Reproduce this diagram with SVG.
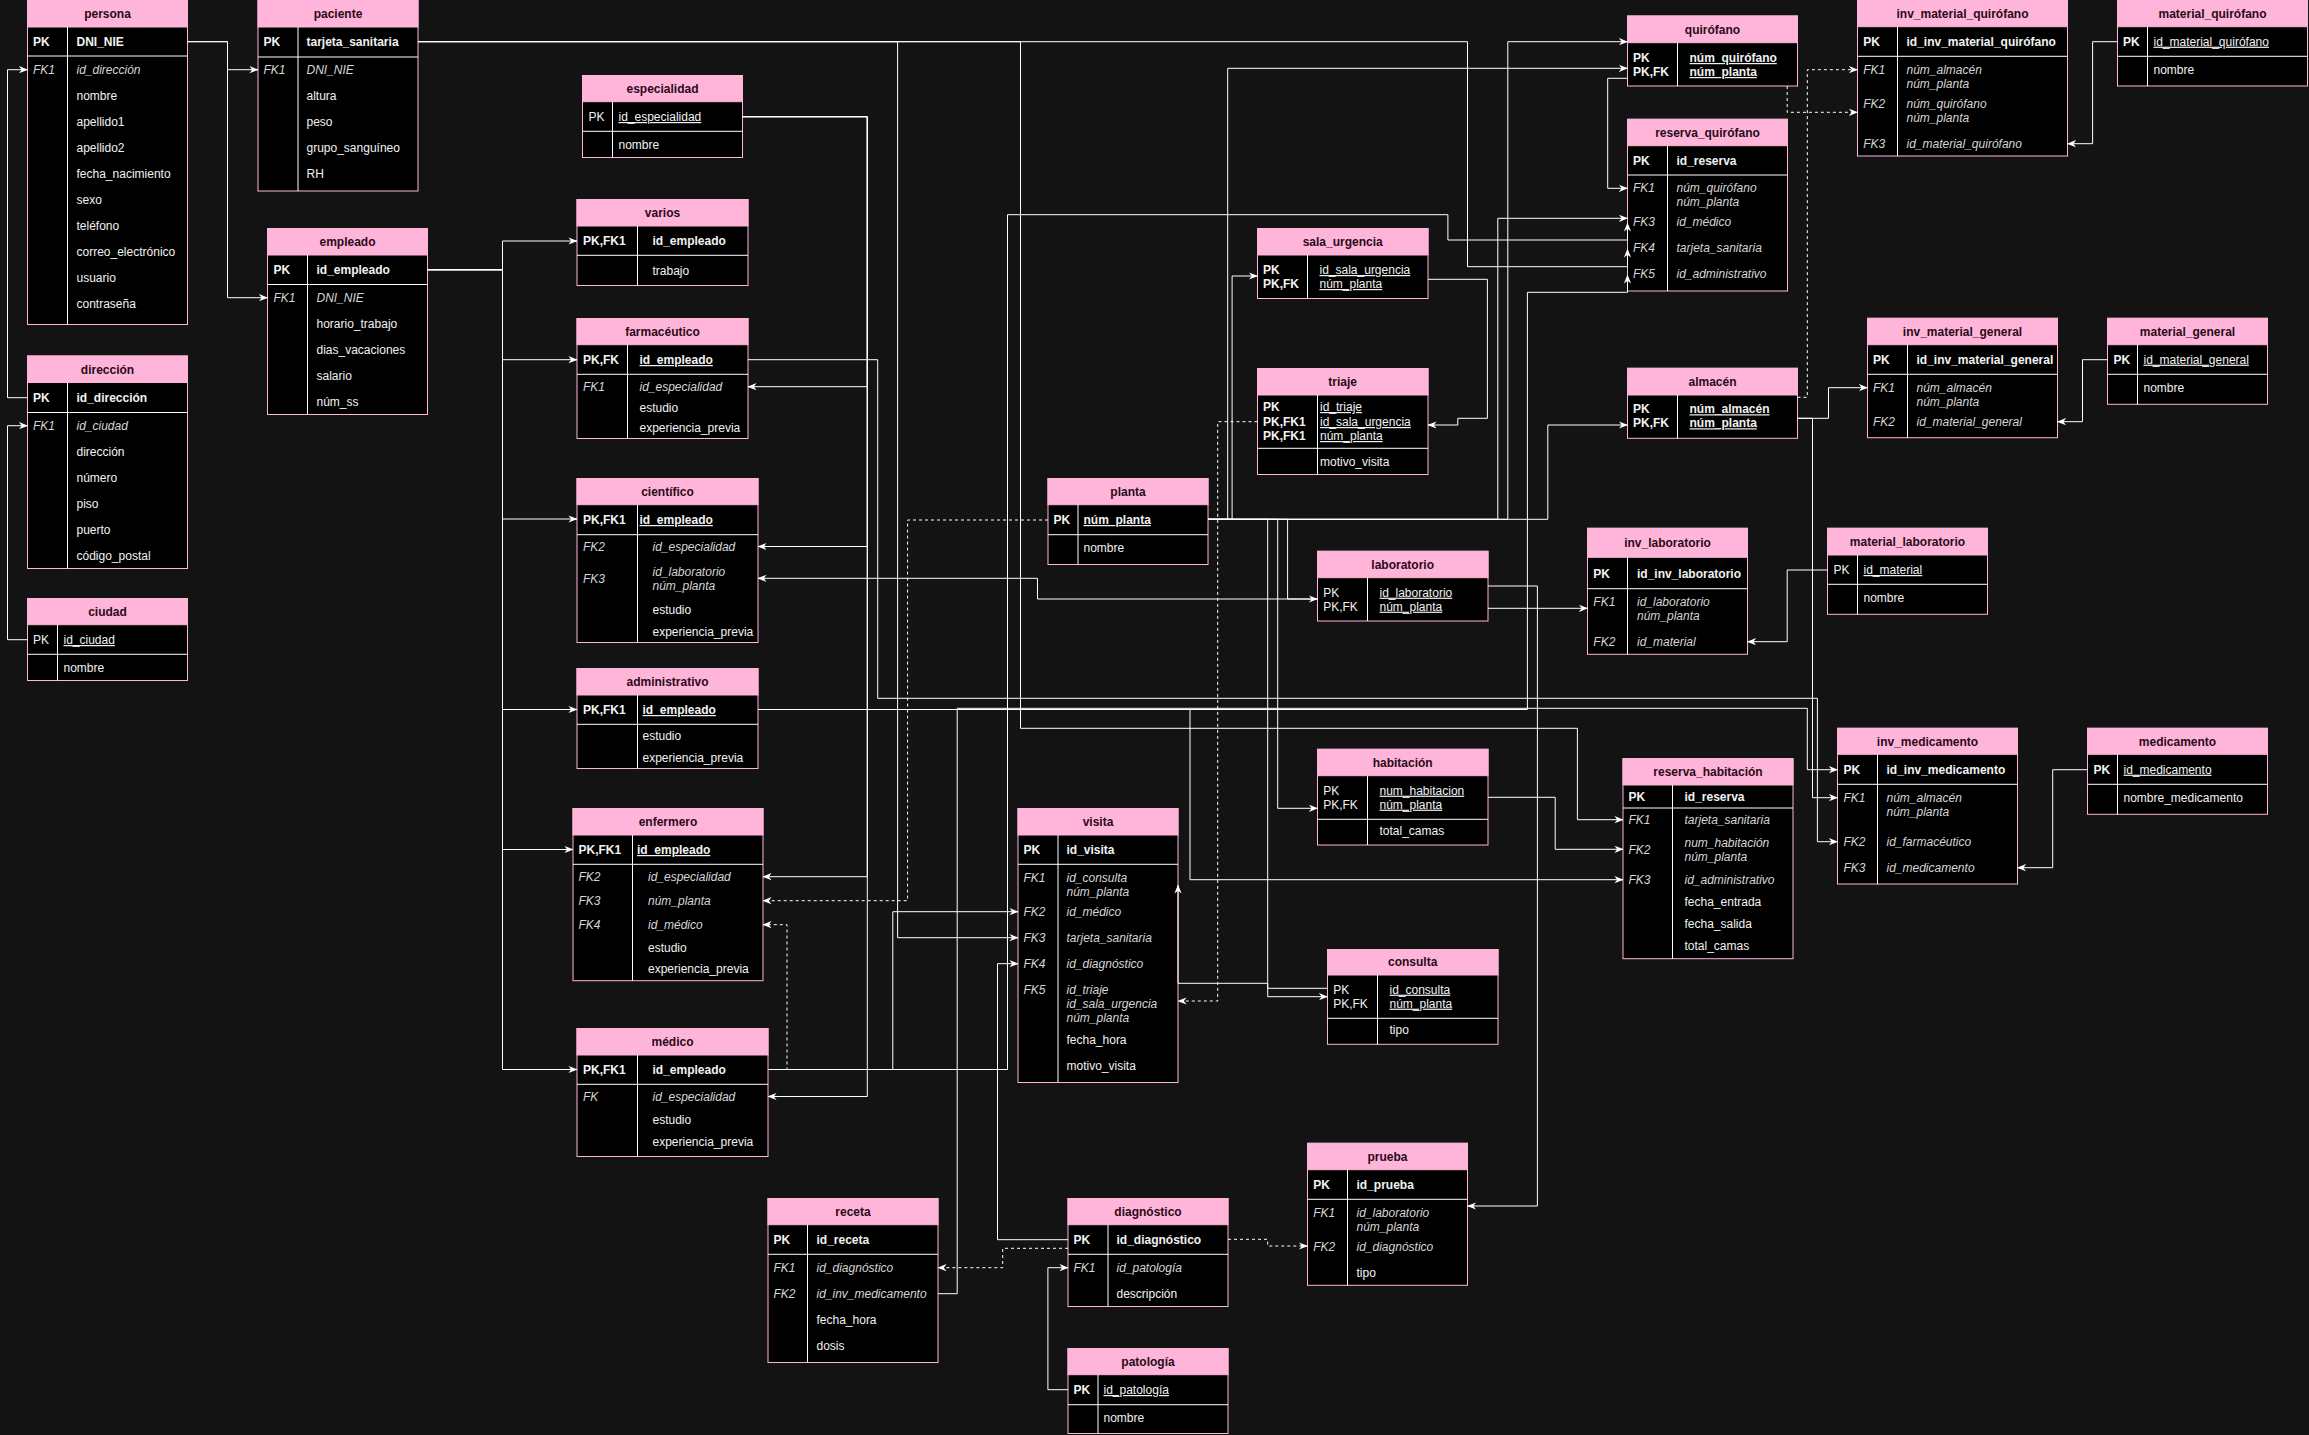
<svg xmlns="http://www.w3.org/2000/svg" width="2309" height="1435" viewBox="0 0 2309 1435">
<style>
.bg{fill:#131313}
.bd{fill:#000;stroke:#ffb5d9;stroke-width:1}
.hd{fill:#ffb5d9;stroke:#ffb5d9;stroke-width:1}
.ln{stroke:#fff;stroke-width:1;fill:none}
text{font-family:"Liberation Sans",Arial,Helvetica,sans-serif;font-size:12px}
.tt{font-weight:bold;fill:#2a0a18;text-anchor:middle}
.t{fill:#f2f2f2}
.b{font-weight:bold}
.i{font-style:italic;fill:#d6d6d6}
.u{text-decoration:underline}
.e{fill:none;stroke:#fff;stroke-width:1;marker-end:url(#a)}
.d{stroke-dasharray:3 3}
</style>
<defs>
<marker id="a" viewBox="0 0 10 10" refX="9.5" refY="5" markerWidth="9" markerHeight="9" orient="auto" markerUnits="userSpaceOnUse"><path d="M0,1 L10,5 L0,9 L3,5 z" fill="#fff"/></marker>
</defs>
<rect class="bg" x="0" y="0" width="2309" height="1435"/>

<g id="persona">
<rect class="bd" x="27.5" y="0.5" width="160" height="324"/>
<rect class="hd" x="27.5" y="0.5" width="160" height="26.5"/>
<text class="tt" x="107.5" y="18">persona</text>
<path class="ln" d="M27.5,56H187.5M67.5,27V324.5"/>
<text class="t b" x="33" y="46">PK</text><text class="t b" x="76.5" y="46">DNI_NIE</text>
<text class="t i" x="33" y="74">FK1</text><text class="t i" x="76.5" y="74">id_dirección</text>
<text class="t" x="76.5" y="100">nombre</text>
<text class="t" x="76.5" y="126">apellido1</text>
<text class="t" x="76.5" y="152">apellido2</text>
<text class="t" x="76.5" y="178">fecha_nacimiento</text>
<text class="t" x="76.5" y="204">sexo</text>
<text class="t" x="76.5" y="230">teléfono</text>
<text class="t" x="76.5" y="256">correo_electrónico</text>
<text class="t" x="76.5" y="282">usuario</text>
<text class="t" x="76.5" y="308">contraseña</text>
</g>

<g id="paciente">
<rect class="bd" x="258" y="0.5" width="160" height="190.5"/>
<rect class="hd" x="258" y="0.5" width="160" height="26.5"/>
<text class="tt" x="338" y="18">paciente</text>
<path class="ln" d="M258,57H418M298,27V191"/>
<text class="t b" x="263.5" y="46">PK</text><text class="t b" x="306.5" y="46">tarjeta_sanitaria</text>
<text class="t i" x="263.5" y="74">FK1</text><text class="t i" x="306.5" y="74">DNI_NIE</text>
<text class="t" x="306.5" y="100">altura</text>
<text class="t" x="306.5" y="126">peso</text>
<text class="t" x="306.5" y="152">grupo_sanguíneo</text>
<text class="t" x="306.5" y="178">RH</text>
</g>

<g id="empleado">
<rect class="bd" x="267.5" y="228.5" width="160" height="186"/>
<rect class="hd" x="267.5" y="228.5" width="160" height="26.5"/>
<text class="tt" x="347.5" y="246">empleado</text>
<path class="ln" d="M267.5,284.5H427.5M307.5,255V414.5"/>
<text class="t b" x="273.5" y="274">PK</text><text class="t b" x="316.5" y="274">id_empleado</text>
<text class="t i" x="273.5" y="302">FK1</text><text class="t i" x="316.5" y="302">DNI_NIE</text>
<text class="t" x="316.5" y="328">horario_trabajo</text>
<text class="t" x="316.5" y="354">dias_vacaciones</text>
<text class="t" x="316.5" y="380">salario</text>
<text class="t" x="316.5" y="406">núm_ss</text>
</g>

<g id="direccion">
<rect class="bd" x="27.5" y="356" width="160" height="212.5"/>
<rect class="hd" x="27.5" y="356" width="160" height="26.5"/>
<text class="tt" x="107.5" y="373.5">dirección</text>
<path class="ln" d="M27.5,412.5H187.5M67.5,382.5V568.5"/>
<text class="t b" x="33" y="402">PK</text><text class="t b" x="76.5" y="402">id_dirección</text>
<text class="t i" x="33" y="430">FK1</text><text class="t i" x="76.5" y="430">id_ciudad</text>
<text class="t" x="76.5" y="456">dirección</text>
<text class="t" x="76.5" y="482">número</text>
<text class="t" x="76.5" y="508">piso</text>
<text class="t" x="76.5" y="534">puerto</text>
<text class="t" x="76.5" y="560">código_postal</text>
</g>

<g id="ciudad">
<rect class="bd" x="27.5" y="598.5" width="160" height="82"/>
<rect class="hd" x="27.5" y="598.5" width="160" height="26.2"/>
<text class="tt" x="107.5" y="615.5">ciudad</text>
<path class="ln" d="M27.5,654.3H187.5M57.5,624.7V680.5"/>
<text class="t" x="33" y="644">PK</text><text class="t u" x="63.5" y="644">id_ciudad</text>
<text class="t" x="63.5" y="672">nombre</text>
</g>

<g id="especialidad">
<rect class="bd" x="582.5" y="75.5" width="160" height="82"/>
<rect class="hd" x="582.5" y="75.5" width="160" height="26.2"/>
<text class="tt" x="662.5" y="92.5">especialidad</text>
<path class="ln" d="M582.5,131.3H742.5M612.5,101.7V157.5"/>
<text class="t" x="588.5" y="121">PK</text><text class="t u" x="618.5" y="121">id_especialidad</text>
<text class="t" x="618.5" y="149">nombre</text>
</g>

<g id="varios">
<rect class="bd" x="577" y="199.5" width="171" height="86"/>
<rect class="hd" x="577" y="199.5" width="171" height="26.5"/>
<text class="tt" x="662.5" y="217">varios</text>
<path class="ln" d="M577,255.3H748M637.5,226V285.5"/>
<text class="t b" x="583" y="245">PK,FK1</text><text class="t b" x="652.5" y="245">id_empleado</text>
<text class="t" x="652.5" y="275">trabajo</text>
</g>

<g id="farmaceutico">
<rect class="bd" x="577" y="318.5" width="171" height="120"/>
<rect class="hd" x="577" y="318.5" width="171" height="26.2"/>
<text class="tt" x="662.5" y="335.5">farmacéutico</text>
<path class="ln" d="M577,374.3H748M627.5,344.7V438.5"/>
<text class="t b" x="583" y="364">PK,FK</text><text class="t b u" x="639.5" y="364">id_empleado</text>
<text class="t i" x="583" y="391">FK1</text><text class="t i" x="639.5" y="391">id_especialidad</text>
<text class="t" x="639.5" y="412">estudio</text>
<text class="t" x="639.5" y="432">experiencia_previa</text>
</g>

<g id="cientifico">
<rect class="bd" x="577" y="478.5" width="181" height="164"/>
<rect class="hd" x="577" y="478.5" width="181" height="26.2"/>
<text class="tt" x="667.5" y="495.5">científico</text>
<path class="ln" d="M577,534.7H758M637.5,504.7V642.5"/>
<text class="t b" x="583" y="524">PK,FK1</text><text class="t b u" x="639.5" y="524">id_empleado</text>
<text class="t i" x="583" y="551">FK2</text><text class="t i" x="652.5" y="551">id_especialidad</text>
<text class="t i" x="583" y="583">FK3</text><text class="t i" x="652.5" y="576">id_laboratorio</text><text class="t i" x="652.5" y="590">núm_planta</text>
<text class="t" x="652.5" y="614">estudio</text>
<text class="t" x="652.5" y="636">experiencia_previa</text>
</g>

<g id="administrativo">
<rect class="bd" x="577" y="668.5" width="181" height="100"/>
<rect class="hd" x="577" y="668.5" width="181" height="26.5"/>
<text class="tt" x="667.5" y="686">administrativo</text>
<path class="ln" d="M577,724.3H758M637.5,695V768.5"/>
<text class="t b" x="583" y="714">PK,FK1</text><text class="t b u" x="642.5" y="714">id_empleado</text>
<text class="t" x="642.5" y="740">estudio</text>
<text class="t" x="642.5" y="762">experiencia_previa</text>
</g>

<g id="enfermero">
<rect class="bd" x="573" y="808.5" width="190" height="172.2"/>
<rect class="hd" x="573" y="808.5" width="190" height="26.5"/>
<text class="tt" x="668" y="826">enfermero</text>
<path class="ln" d="M573,864.3H763M632.5,835V980.7"/>
<text class="t b" x="578.5" y="854">PK,FK1</text><text class="t b u" x="637" y="854">id_empleado</text>
<text class="t i" x="578.5" y="881">FK2</text><text class="t i" x="648" y="881">id_especialidad</text>
<text class="t i" x="578.5" y="905">FK3</text><text class="t i" x="648" y="905">núm_planta</text>
<text class="t i" x="578.5" y="929">FK4</text><text class="t i" x="648" y="929">id_médico</text>
<text class="t" x="648" y="952">estudio</text>
<text class="t" x="648" y="973">experiencia_previa</text>
</g>

<g id="medico">
<rect class="bd" x="577" y="1028.5" width="191" height="128"/>
<rect class="hd" x="577" y="1028.5" width="191" height="26.5"/>
<text class="tt" x="672.5" y="1046">médico</text>
<path class="ln" d="M577,1084.3H768M637.5,1055V1156.5"/>
<text class="t b" x="583" y="1074">PK,FK1</text><text class="t b" x="652.5" y="1074">id_empleado</text>
<text class="t i" x="583" y="1101">FK</text><text class="t i" x="652.5" y="1101">id_especialidad</text>
<text class="t" x="652.5" y="1124">estudio</text>
<text class="t" x="652.5" y="1146">experiencia_previa</text>
</g>

<g id="receta">
<rect class="bd" x="768" y="1198.5" width="170" height="164"/>
<rect class="hd" x="768" y="1198.5" width="170" height="26.2"/>
<text class="tt" x="853" y="1216">receta</text>
<path class="ln" d="M768,1254.3H938M807.5,1224.7V1362.5"/>
<text class="t b" x="773.5" y="1244">PK</text><text class="t b" x="816.5" y="1244">id_receta</text>
<text class="t i" x="773.5" y="1272">FK1</text><text class="t i" x="816.5" y="1272">id_diagnóstico</text>
<text class="t i" x="773.5" y="1298">FK2</text><text class="t i" x="816.5" y="1298">id_inv_medicamento</text>
<text class="t" x="816.5" y="1324">fecha_hora</text>
<text class="t" x="816.5" y="1350">dosis</text>
</g>

<g id="diagnostico">
<rect class="bd" x="1068" y="1198.5" width="160" height="108"/>
<rect class="hd" x="1068" y="1198.5" width="160" height="26.2"/>
<text class="tt" x="1148" y="1216">diagnóstico</text>
<path class="ln" d="M1068,1254.3H1228M1108,1224.7V1306.5"/>
<text class="t b" x="1073.5" y="1244">PK</text><text class="t b" x="1116.5" y="1244">id_diagnóstico</text>
<text class="t i" x="1073.5" y="1272">FK1</text><text class="t i" x="1116.5" y="1272">id_patología</text>
<text class="t" x="1116.5" y="1298">descripción</text>
</g>

<g id="patologia">
<rect class="bd" x="1068" y="1348.5" width="160" height="85"/>
<rect class="hd" x="1068" y="1348.5" width="160" height="26.2"/>
<text class="tt" x="1148" y="1366">patología</text>
<path class="ln" d="M1068,1404.7H1228M1098,1374.7V1433.5"/>
<text class="t b" x="1073.5" y="1394">PK</text><text class="t u" x="1103.5" y="1394">id_patología</text>
<text class="t" x="1103.5" y="1422">nombre</text>
</g>

<g id="visita">
<rect class="bd" x="1018" y="808.5" width="160" height="274"/>
<rect class="hd" x="1018" y="808.5" width="160" height="26.5"/>
<text class="tt" x="1098" y="826">visita</text>
<path class="ln" d="M1018,864.3H1178M1058,835V1082.5"/>
<text class="t b" x="1023.5" y="854">PK</text><text class="t b" x="1066.5" y="854">id_visita</text>
<text class="t i" x="1023.5" y="882">FK1</text><text class="t i" x="1066.5" y="882">id_consulta</text><text class="t i" x="1066.5" y="896">núm_planta</text>
<text class="t i" x="1023.5" y="916">FK2</text><text class="t i" x="1066.5" y="916">id_médico</text>
<text class="t i" x="1023.5" y="942">FK3</text><text class="t i" x="1066.5" y="942">tarjeta_sanitaria</text>
<text class="t i" x="1023.5" y="968">FK4</text><text class="t i" x="1066.5" y="968">id_diagnóstico</text>
<text class="t i" x="1023.5" y="994">FK5</text><text class="t i" x="1066.5" y="994">id_triaje</text><text class="t i" x="1066.5" y="1008">id_sala_urgencia</text><text class="t i" x="1066.5" y="1022">núm_planta</text>
<text class="t" x="1066.5" y="1044">fecha_hora</text>
<text class="t" x="1066.5" y="1070">motivo_visita</text>
</g>

<g id="planta">
<rect class="bd" x="1048" y="478.5" width="160" height="86"/>
<rect class="hd" x="1048" y="478.5" width="160" height="26.2"/>
<text class="tt" x="1128" y="495.5">planta</text>
<path class="ln" d="M1048,534.7H1208M1078,504.7V564.5"/>
<text class="t b" x="1053.5" y="524">PK</text><text class="t b u" x="1083.5" y="524">núm_planta</text>
<text class="t" x="1083.5" y="552">nombre</text>
</g>

<g id="sala_urgencia">
<rect class="bd" x="1257.5" y="228.5" width="170.5" height="70"/>
<rect class="hd" x="1257.5" y="228.5" width="170.5" height="26.5"/>
<text class="tt" x="1342.7" y="246">sala_urgencia</text>
<path class="ln" d="M1307.5,255V298.5"/>
<text class="t b" x="1263" y="274">PK</text><text class="t b" x="1263" y="288">PK,FK</text>
<text class="t u" x="1319.5" y="274">id_sala_urgencia</text><text class="t u" x="1319.5" y="288">núm_planta</text>
</g>

<g id="triaje">
<rect class="bd" x="1257.5" y="368.5" width="170.5" height="106"/>
<rect class="hd" x="1257.5" y="368.5" width="170.5" height="26.5"/>
<text class="tt" x="1342.7" y="386">triaje</text>
<path class="ln" d="M1257.5,448.3H1428M1317.5,395V474.5"/>
<text class="t b" x="1263" y="411">PK</text><text class="t b" x="1263" y="426">PK,FK1</text><text class="t b" x="1263" y="440">PK,FK1</text>
<text class="t u" x="1320" y="411">id_triaje</text><text class="t u" x="1320" y="426">id_sala_urgencia</text><text class="t u" x="1320" y="440">núm_planta</text>
<text class="t" x="1320" y="466">motivo_visita</text>
</g>

<g id="quirofano">
<rect class="bd" x="1627.5" y="16" width="170" height="70"/>
<rect class="hd" x="1627.5" y="16" width="170" height="26.7"/>
<text class="tt" x="1712.5" y="33.5">quirófano</text>
<path class="ln" d="M1677.5,42.7V86"/>
<text class="t b" x="1633" y="62">PK</text><text class="t b" x="1633" y="76">PK,FK</text>
<text class="t b u" x="1689.5" y="62">núm_quirófano</text><text class="t b u" x="1689.5" y="76">núm_planta</text>
</g>

<g id="reserva_quirofano">
<rect class="bd" x="1627.5" y="119.3" width="160" height="171.7"/>
<rect class="hd" x="1627.5" y="119.3" width="160" height="26.4"/>
<text class="tt" x="1707.5" y="136.5">reserva_quirófano</text>
<path class="ln" d="M1627.5,175H1787.5M1667.5,145.7V291"/>
<text class="t b" x="1633" y="165">PK</text><text class="t b" x="1676.5" y="165">id_reserva</text>
<text class="t i" x="1633" y="192.3">FK1</text><text class="t i" x="1676.5" y="192.3">núm_quirófano</text><text class="t i" x="1676.5" y="206.3">núm_planta</text>
<text class="t i" x="1633" y="226.3">FK3</text><text class="t i" x="1676.5" y="226.3">id_médico</text>
<text class="t i" x="1633" y="252.3">FK4</text><text class="t i" x="1676.5" y="252.3">tarjeta_sanitaria</text>
<text class="t i" x="1633" y="278.3">FK5</text><text class="t i" x="1676.5" y="278.3">id_administrativo</text>
</g>

<g id="almacen">
<rect class="bd" x="1627.5" y="368.3" width="170" height="70"/>
<rect class="hd" x="1627.5" y="368.3" width="170" height="26.7"/>
<text class="tt" x="1712.5" y="386">almacén</text>
<path class="ln" d="M1677.5,395V438.3"/>
<text class="t b" x="1633" y="413.3">PK</text><text class="t b" x="1633" y="427.3">PK,FK</text>
<text class="t b u" x="1689.5" y="413.3">núm_almacén</text><text class="t b u" x="1689.5" y="427.3">núm_planta</text>
</g>

<g id="inv_material_quirofano">
<rect class="bd" x="1857.5" y="0.5" width="210" height="155.5"/>
<rect class="hd" x="1857.5" y="0.5" width="210" height="26.2"/>
<text class="tt" x="1962.5" y="18">inv_material_quirófano</text>
<path class="ln" d="M1857.5,56.3H2067.5M1897.5,26.7V156"/>
<text class="t b" x="1863.2" y="45.7">PK</text><text class="t b" x="1906.5" y="45.7">id_inv_material_quirófano</text>
<text class="t i" x="1863.2" y="73.7">FK1</text><text class="t i" x="1906.5" y="73.7">núm_almacén</text><text class="t i" x="1906.5" y="87.7">núm_planta</text>
<text class="t i" x="1863.2" y="107.7">FK2</text><text class="t i" x="1906.5" y="107.7">núm_quirófano</text><text class="t i" x="1906.5" y="121.7">núm_planta</text>
<text class="t i" x="1863.2" y="147.7">FK3</text><text class="t i" x="1906.5" y="147.7">id_material_quirófano</text>
</g>

<g id="material_quirofano">
<rect class="bd" x="2117.5" y="0.5" width="190" height="85.5"/>
<rect class="hd" x="2117.5" y="0.5" width="190" height="26.2"/>
<text class="tt" x="2212.5" y="18">material_quirófano</text>
<path class="ln" d="M2117.5,56.3H2307.5M2147.5,26.7V86"/>
<text class="t b" x="2123" y="45.7">PK</text><text class="t u" x="2153.5" y="45.7">id_material_quirófano</text>
<text class="t" x="2153.5" y="73.7">nombre</text>
</g>

<g id="inv_material_general">
<rect class="bd" x="1867.5" y="318.3" width="190" height="119.4"/>
<rect class="hd" x="1867.5" y="318.3" width="190" height="26.4"/>
<text class="tt" x="1962.5" y="335.5">inv_material_general</text>
<path class="ln" d="M1867.5,374.3H2057.5M1907.5,344.7V437.7"/>
<text class="t b" x="1873" y="363.7">PK</text><text class="t b" x="1916.5" y="363.7">id_inv_material_general</text>
<text class="t i" x="1873" y="391.7">FK1</text><text class="t i" x="1916.5" y="391.7">núm_almacén</text><text class="t i" x="1916.5" y="405.7">núm_planta</text>
<text class="t i" x="1873" y="425.7">FK2</text><text class="t i" x="1916.5" y="425.7">id_material_general</text>
</g>

<g id="material_general">
<rect class="bd" x="2107.5" y="318.3" width="160" height="86"/>
<rect class="hd" x="2107.5" y="318.3" width="160" height="26.4"/>
<text class="tt" x="2187.5" y="335.5">material_general</text>
<path class="ln" d="M2107.5,374.3H2267.5M2137.5,344.7V404.3"/>
<text class="t b" x="2113.5" y="363.7">PK</text><text class="t u" x="2143.5" y="363.7">id_material_general</text>
<text class="t" x="2143.5" y="391.7">nombre</text>
</g>

<g id="laboratorio">
<rect class="bd" x="1317.5" y="551.3" width="170.5" height="69.7"/>
<rect class="hd" x="1317.5" y="551.3" width="170.5" height="26.4"/>
<text class="tt" x="1402.7" y="568.5">laboratorio</text>
<path class="ln" d="M1367.5,577.7V621"/>
<text class="t" x="1323.2" y="596.7">PK</text><text class="t" x="1323.2" y="610.7">PK,FK</text>
<text class="t u" x="1379.5" y="596.7">id_laboratorio</text><text class="t u" x="1379.5" y="610.7">núm_planta</text>
</g>

<g id="inv_laboratorio">
<rect class="bd" x="1587.5" y="528.3" width="160" height="126"/>
<rect class="hd" x="1587.5" y="528.3" width="160" height="29"/>
<text class="tt" x="1667.5" y="547">inv_laboratorio</text>
<path class="ln" d="M1587.5,588.7H1747.5M1627.5,557.3V654.3"/>
<text class="t b" x="1593.3" y="577.7">PK</text><text class="t b" x="1637" y="577.7">id_inv_laboratorio</text>
<text class="t i" x="1593.3" y="605.7">FK1</text><text class="t i" x="1637" y="605.7">id_laboratorio</text><text class="t i" x="1637" y="619.7">núm_planta</text>
<text class="t i" x="1593.3" y="645.7">FK2</text><text class="t i" x="1637" y="645.7">id_material</text>
</g>

<g id="material_laboratorio">
<rect class="bd" x="1827.5" y="528.3" width="160" height="86"/>
<rect class="hd" x="1827.5" y="528.3" width="160" height="26.7"/>
<text class="tt" x="1907.5" y="546">material_laboratorio</text>
<path class="ln" d="M1827.5,584.3H1987.5M1857.5,555V614.3"/>
<text class="t" x="1833.5" y="574">PK</text><text class="t u" x="1863.5" y="574">id_material</text>
<text class="t" x="1863.5" y="601.7">nombre</text>
</g>

<g id="habitacion">
<rect class="bd" x="1317.5" y="749.3" width="170.5" height="95.7"/>
<rect class="hd" x="1317.5" y="749.3" width="170.5" height="26.4"/>
<text class="tt" x="1402.7" y="766.5">habitación</text>
<path class="ln" d="M1317.5,819.3H1488M1367.5,775.7V845"/>
<text class="t" x="1323.2" y="794.7">PK</text><text class="t" x="1323.2" y="808.7">PK,FK</text>
<text class="t u" x="1379.5" y="794.7">num_habitacion</text><text class="t u" x="1379.5" y="808.7">núm_planta</text>
<text class="t" x="1379.5" y="835">total_camas</text>
</g>

<g id="reserva_habitacion">
<rect class="bd" x="1623" y="758.7" width="170" height="200"/>
<rect class="hd" x="1623" y="758.7" width="170" height="26.3"/>
<text class="tt" x="1708" y="776">reserva_habitación</text>
<path class="ln" d="M1623,808H1793M1672.5,785V958.7"/>
<text class="t b" x="1628.5" y="800.7">PK</text><text class="t b" x="1684.5" y="800.7">id_reserva</text>
<text class="t i" x="1628.5" y="823.7">FK1</text><text class="t i" x="1684.5" y="823.7">tarjeta_sanitaria</text>
<text class="t i" x="1628.5" y="853.7">FK2</text><text class="t i" x="1684.5" y="846.7">num_habitación</text><text class="t i" x="1684.5" y="860.7">núm_planta</text>
<text class="t i" x="1628.5" y="883.7">FK3</text><text class="t i" x="1684.5" y="883.7">id_administrativo</text>
<text class="t" x="1684.5" y="906">fecha_entrada</text>
<text class="t" x="1684.5" y="928">fecha_salida</text>
<text class="t" x="1684.5" y="950">total_camas</text>
</g>

<g id="inv_medicamento">
<rect class="bd" x="1837.5" y="728.3" width="180" height="155.7"/>
<rect class="hd" x="1837.5" y="728.3" width="180" height="26"/>
<text class="tt" x="1927.5" y="745.5">inv_medicamento</text>
<path class="ln" d="M1837.5,784.3H2017.5M1877.5,754.3V884"/>
<text class="t b" x="1843.5" y="773.7">PK</text><text class="t b" x="1886.5" y="773.7">id_inv_medicamento</text>
<text class="t i" x="1843.5" y="801.7">FK1</text><text class="t i" x="1886.5" y="801.7">núm_almacén</text><text class="t i" x="1886.5" y="815.7">núm_planta</text>
<text class="t i" x="1843.5" y="845.7">FK2</text><text class="t i" x="1886.5" y="845.7">id_farmacéutico</text>
<text class="t i" x="1843.5" y="871.7">FK3</text><text class="t i" x="1886.5" y="871.7">id_medicamento</text>
</g>

<g id="medicamento">
<rect class="bd" x="2087.5" y="728.3" width="180" height="86"/>
<rect class="hd" x="2087.5" y="728.3" width="180" height="26"/>
<text class="tt" x="2177.5" y="745.5">medicamento</text>
<path class="ln" d="M2087.5,784.3H2267.5M2117.5,754.3V814.3"/>
<text class="t b" x="2093.5" y="773.7">PK</text><text class="t u" x="2123.5" y="773.7">id_medicamento</text>
<text class="t" x="2123.5" y="801.7">nombre_medicamento</text>
</g>

<g id="consulta">
<rect class="bd" x="1327.5" y="949.5" width="170.5" height="94.8"/>
<rect class="hd" x="1327.5" y="949.5" width="170.5" height="25.5"/>
<text class="tt" x="1412.7" y="966.3">consulta</text>
<path class="ln" d="M1327.5,1018.3H1498M1377.5,975V1044.3"/>
<text class="t" x="1333.2" y="993.7">PK</text><text class="t" x="1333.2" y="1007.7">PK,FK</text>
<text class="t u" x="1389.5" y="993.7">id_consulta</text><text class="t u" x="1389.5" y="1007.7">núm_planta</text>
<text class="t" x="1389.5" y="1033.7">tipo</text>
</g>

<g id="prueba">
<rect class="bd" x="1307.5" y="1143.3" width="160" height="142"/>
<rect class="hd" x="1307.5" y="1143.3" width="160" height="26.4"/>
<text class="tt" x="1387.5" y="1160.5">prueba</text>
<path class="ln" d="M1307.5,1199.3H1467.5M1347.5,1169.7V1285.3"/>
<text class="t b" x="1313.2" y="1189">PK</text><text class="t b" x="1356.5" y="1189">id_prueba</text>
<text class="t i" x="1313.2" y="1217">FK1</text><text class="t i" x="1356.5" y="1217">id_laboratorio</text><text class="t i" x="1356.5" y="1231">núm_planta</text>
<text class="t i" x="1313.2" y="1250.7">FK2</text><text class="t i" x="1356.5" y="1250.7">id_diagnóstico</text>
<text class="t" x="1356.5" y="1276.7">tipo</text>
</g>

<g id="connectors">
<path class="e" d="M27.5,397.7H7.5V69.7H27.5"/>
<path class="e" d="M27.5,639.7H7.5V425.7H27.5"/>
<path class="e" d="M187.5,41.7H227.5V69.7H258"/>
<path class="e" d="M187.5,41.7H227.5V297.7H267.5"/>
<path class="e" d="M427.5,269.7H502.5V241H577"/>
<path class="e" d="M427.5,269.7H502.5V359.7H577"/>
<path class="e" d="M427.5,269.7H502.5V519H577"/>
<path class="e" d="M427.5,269.7H502.5V709.5H577"/>
<path class="e" d="M427.5,269.7H502.5V849.5H573"/>
<path class="e" d="M427.5,269.7H502.5V1069.5H577"/>
<path class="e" d="M742.5,116.7H867.3V386.7H748"/>
<path class="e" d="M742.5,116.7H867.3V546.5H758"/>
<path class="e" d="M742.5,116.7H867.3V876.7H763"/>
<path class="e" d="M742.5,116.7H867.3V1096.5H768"/>
<path class="e" d="M748,359.7H877.7V698.3H1817.4V841.7H1837.5"/>
<path class="e" d="M418,41.7H897.6V937.7H1018"/>
<path class="e" d="M418,41.7H1020.5V728.3H1577.4V819.7H1623"/>
<path class="e" d="M418,41.7H1467.5V266.7H1627.5V249"/>
<path class="e" d="M768,1069.5H892.8V911.7H1018"/>
<path class="e d" d="M768,1069.5H787V924.7H763"/>
<path class="e" d="M768,1069.5H1007.5V214.7H1447.9V240H1627.5V223"/>
<path class="e" d="M758,709.5H1527.4V292.3H1627.5V275"/>
<path class="e" d="M758,709.5H1190V879.7H1623"/>
<path class="e" d="M938,1293.7H957.2V708.3H1807.3V769.7H1837.5"/>
<path class="e d" d="M1048,520H907.6V900.7H763"/>
<path class="e" d="M1208,519.3H1227.7V68.3H1627.5"/>
<path class="e" d="M1208,519.3H1232.1V276H1257.5"/>
<path class="e" d="M1208,519.3H1497.8V218.3H1627.5"/>
<path class="e" d="M1208,519.3H1507.8V41.7H1627.5"/>
<path class="e" d="M1208,519.3H1547.8V425H1627.5"/>
<path class="e" d="M1208,519.3H1267.7V996.7H1327.5"/>
<path class="e" d="M1208,519.3H1277.7V808.3H1317.5"/>
<path class="e" d="M1208,519.3H1287.6V599H1317.5"/>
<path class="e" d="M1317.5,599H1037.5V578.3H758"/>
<path class="e" d="M1488,608.3H1587.5"/>
<path class="e" d="M1488,586H1537.4V1206H1467.5"/>
<path class="e" d="M1827.5,570H1787.2V641.7H1747.5"/>
<path class="e" d="M1428,279.3H1487.4V418.3H1457.8V425H1428"/>
<path class="e d" d="M1257.5,421.7H1217.7V1001H1178"/>
<path class="e" d="M1327.5,988.3H1267.7V983.3H1178V885"/>
<path class="e" d="M1068,1239.7H997.5V963.7H1018"/>
<path class="e d" d="M1068,1248.3H1002.7V1267.7H938"/>
<path class="e" d="M1068,1389.7H1047.9V1267.7H1068"/>
<path class="e d" d="M1228,1239.3H1267.7V1246H1307.5"/>
<path class="e" d="M1488,797.3H1555.2V849.3H1623"/>
<path class="e" d="M1627.5,78.3H1607.7V188.3H1627.5"/>
<path class="e d" d="M1787.2,86V112.3H1857.5"/>
<path class="e d" d="M1797.5,397.3H1807.3V69.7H1857.5"/>
<path class="e" d="M1797.5,418.3H1828.5V387.7H1867.5"/>
<path class="e" d="M1797.5,418.3H1812.5V797.7H1837.5"/>
<path class="e" d="M2117.5,41.7H2092.6V143.7H2067.5"/>
<path class="e" d="M2107.5,359.7H2082.5V421.7H2057.5"/>
<path class="e" d="M2087.5,769.7H2052.7V867.7H2017.5"/>
</g>
</svg>
